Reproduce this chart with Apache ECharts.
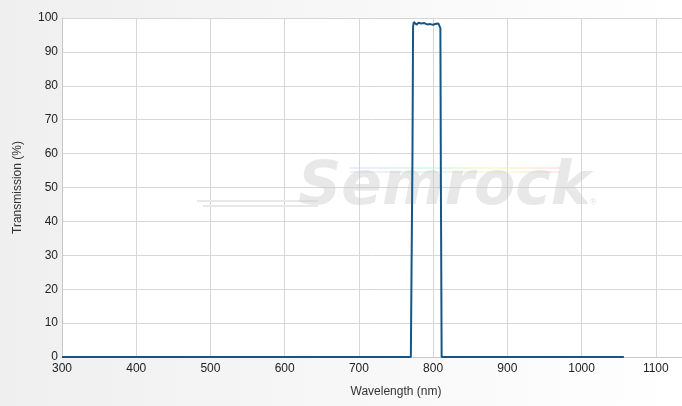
<!DOCTYPE html>
<html><head><meta charset="utf-8">
<script src="https://cdn.jsdelivr.net/npm/echarts@6/dist/echarts.min.js"></script>
<style>html,body{margin:0;padding:0;background:#fff}#c{width:682px;height:406px}</style>
</head><body><div id="c"></div>
<script>
// Wavelength (nm) and transmission (%)
const wavelengths = [300, 500, 700, 770, 771.5, 772.2, 773, 774, 776, 778, 780, 782, 784, 786, 788, 790, 792, 794, 796, 798, 800, 802, 804, 806, 807, 808, 809, 809.8, 810.5, 811.5, 850, 950, 1057];
const transmission = [0, 0, 0, 0, 0.5, 60, 97.5, 98.8, 98.3, 98.0, 98.6, 98.2, 98.4, 98.0, 98.5, 98.3, 98.1, 98.6, 98.2, 98.4, 98.0, 98.5, 98.3, 98.7, 98.4, 98.9, 98.5, 97.0, 50, 0, 0, 0, 0];
const xTicks = { min: 300, max: 1200, interval: 100 };
const yTicks = { min: 0, max: 100, interval: 10 };

const chart = echarts.init(document.getElementById('c'), null, { renderer: 'canvas' });
const font = 'Liberation Sans, Arial, sans-serif';
const wmFont = 'DejaVu Sans, Liberation Sans, sans-serif';
chart.setOption({
  animation: false,
  backgroundColor: new echarts.graphic.LinearGradient(0, 0, 1, 0, [
    { offset: 0, color: '#efefef' }, { offset: 1, color: '#ffffff' }
  ]),
  graphic: [
    { type: 'line', z: 1, shape: { x1: 197, y1: 201, x2: 318, y2: 201 }, style: { stroke: '#e8e8e8', lineWidth: 2 } },
    { type: 'line', z: 1, shape: { x1: 203, y1: 206, x2: 318, y2: 206 }, style: { stroke: '#e8e8e8', lineWidth: 2 } },
    { type: 'line', z: 1, shape: { x1: 350, y1: 168, x2: 560, y2: 168 },
      style: { stroke: new echarts.graphic.LinearGradient(0, 0, 1, 0, [
        { offset: 0, color: 'rgba(200,200,255,0.35)' }, { offset: 0.4, color: 'rgba(190,240,200,0.45)' },
        { offset: 0.7, color: 'rgba(250,240,180,0.45)' }, { offset: 1, color: 'rgba(255,200,200,0.45)' }]), lineWidth: 2 } },
    { type: 'line', z: 1, shape: { x1: 350, y1: 172, x2: 560, y2: 172 },
      style: { stroke: new echarts.graphic.LinearGradient(0, 0, 1, 0, [
        { offset: 0, color: 'rgba(200,200,255,0.3)' }, { offset: 0.4, color: 'rgba(190,240,200,0.4)' },
        { offset: 0.7, color: 'rgba(250,240,180,0.4)' }, { offset: 1, color: 'rgba(255,200,200,0.4)' }]), lineWidth: 2 } },
    { type: 'text', z: 1, left: 298, top: 158,
      style: { text: 'Semrock', font: 'italic bold 60px ' + wmFont, fill: 'rgba(200,200,200,0.42)' } },
    { type: 'text', z: 1, left: 590, top: 198,
      style: { text: '®', font: '9px ' + font, fill: 'rgba(200,200,200,0.55)' } }
  ],
  grid: { left: 62, width: 668, top: 18, bottom: 49, outerBoundsMode: 'none', containLabel: false,
    show: true, backgroundColor: '#ffffff', borderWidth: 0 },
  xAxis: {
    type: 'value', min: xTicks.min, max: xTicks.max, interval: xTicks.interval,
    name: 'Wavelength (nm)', nameLocation: 'middle', nameGap: 29,
    nameTextStyle: { fontFamily: font, fontSize: 12, color: '#333' },
    axisLine: { show: true, lineStyle: { color: '#c8c8c8', width: 1 } },
    axisTick: { show: false },
    axisLabel: { fontFamily: font, fontSize: 12, color: '#222', margin: 6, formatter: v => String(v) },
    splitLine: { show: true, lineStyle: { color: '#d6d6d6', width: 1 } }
  },
  yAxis: {
    type: 'value', min: yTicks.min, max: yTicks.max, interval: yTicks.interval,
    name: 'Transmission (%)', nameLocation: 'middle', nameGap: 38,
    nameTextStyle: { fontFamily: font, fontSize: 12, color: '#333' },
    axisLine: { show: true, lineStyle: { color: '#c8c8c8', width: 1 } },
    axisTick: { show: false },
    axisLabel: { fontFamily: font, fontSize: 12, color: '#222', margin: 4 },
    splitLine: { show: true, lineStyle: { color: '#d6d6d6', width: 1 } }
  },
  series: [{
    type: 'line', showSymbol: false, symbol: 'none', z: 3,
    data: wavelengths.map((w, i) => [w, transmission[i]]),
    lineStyle: { color: '#15568a', width: 2 }
  }]
});
</script></body></html>
